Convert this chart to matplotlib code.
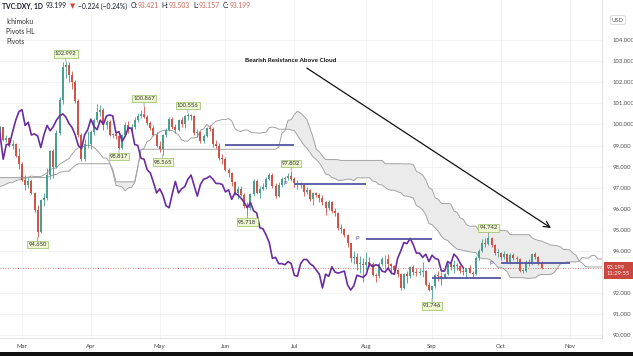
import numpy as np
import pandas as pd
import matplotlib
matplotlib.use("Agg")
import matplotlib.pyplot as plt
from matplotlib.patches import Rectangle
from matplotlib.ticker import FormatStrFormatter

# ---- data -----------------------------------------------------------------
# daily highs/lows before the visible window (Nov 1 2019 .. Feb 19 2020), only feed the cloud
hist_start = "2019-11-01"
hist_high = [97.59, 97.60, 98.05, 98.10, 98.20, 98.45, 98.40, 98.45, 98.45, 98.40, 98.20,
             98.05, 97.95, 98.05, 98.10, 98.35, 98.40, 98.40, 98.60, 98.60, 98.55,
             98.30, 98.00, 97.80, 97.75, 97.80, 97.75, 97.70, 97.50, 97.30, 97.40, 97.25,
             97.30, 97.50, 97.50, 97.75, 97.75, 97.75, 97.70, 97.70, 97.65, 96.95, 96.80,
             96.50, 96.90, 97.00, 96.90, 97.05, 97.35, 97.50, 97.55, 97.45, 97.45, 97.45,
             97.40, 97.70, 97.65, 97.65, 97.65, 97.90, 98.00, 98.05, 98.10, 98.20, 98.10, 97.90,
             97.80, 98.00, 98.35, 98.55, 98.75, 98.85, 98.90, 99.10, 99.15, 99.20, 99.20,
             99.50, 99.75]
hist_low = [97.11, 97.15, 97.50, 97.85, 97.80, 98.10, 98.15, 98.10, 98.20, 98.10, 97.95,
            97.80, 97.75, 97.80, 97.85, 97.95, 98.20, 98.15, 98.25, 98.35, 98.20,
            97.80, 97.60, 97.55, 97.55, 97.40, 97.55, 97.40, 97.05, 96.90, 96.85, 96.95,
            97.05, 97.20, 97.30, 97.35, 97.55, 97.60, 97.60, 97.55, 96.90, 96.65, 96.36,
            96.36, 96.40, 96.65, 96.60, 96.60, 96.90, 97.25, 97.25, 97.25, 97.25, 97.15,
            97.15, 97.25, 97.55, 97.45, 97.45, 97.55, 97.75, 97.80, 97.90, 97.95, 97.80, 97.35,
            97.35, 97.65, 97.95, 98.25, 98.45, 98.60, 98.65, 98.70, 98.90, 98.95, 99.05,
            99.10, 99.40]

# visible candles, Feb 20 .. Oct 20 2020
candle_start = "2020-02-20"
opens = [99.70, 99.86, 99.26, 99.35, 99.00, 99.05, 98.50,
         98.13, 97.36, 97.15, 97.33, 96.73, 95.95, 94.92, 96.40, 96.52, 97.60, 98.72,
         98.00, 99.60, 101.15, 102.70, 102.80, 102.35, 102.00, 101.10, 99.50, 98.35, 99.05,
         99.05, 99.65, 100.20, 100.60, 100.70, 99.95, 100.10, 99.50, 99.55, 99.45, 98.90,
         99.50, 99.95, 99.70, 99.90, 100.20, 100.40, 100.50, 100.35, 100.05, 99.85, 99.50,
         99.00, 98.85, 99.50, 99.75, 100.25, 99.90, 99.75, 100.20, 100.00, 100.40, 100.45,
         100.40, 99.60, 99.65, 99.20, 99.45, 99.85, 99.80, 99.05, 99.00, 98.40,
         98.35, 97.85, 97.70, 97.25, 96.75, 96.95, 96.65, 96.15, 96.05, 96.70, 97.30,
         96.75, 96.95, 97.05, 97.40, 97.60, 97.10, 96.60, 97.15, 97.40, 97.45, 97.55,
         97.40, 97.20, 97.20, 97.15, 96.80, 96.90, 96.45, 96.75, 96.65, 96.50, 96.30,
         96.05, 96.30, 95.90, 95.80, 95.10, 95.05, 94.75, 94.40, 93.65, 93.70, 93.40, 93.40,
         93.35, 93.50, 93.40, 92.85, 92.80, 93.40, 93.60, 93.60, 93.40, 93.30, 93.10,
         92.90, 92.25, 92.90, 92.80, 93.25, 93.00, 92.95, 93.00, 93.05, 92.40,
         92.15, 92.35, 92.85, 92.80, 92.75, 92.90, 93.40, 93.25, 93.35, 93.30, 93.05,
         93.00, 93.20, 92.95, 92.90, 93.65, 94.00, 94.40, 94.35, 94.60, 94.30, 93.90,
         93.90, 93.70, 93.85, 93.50, 93.80, 93.65, 93.60, 93.05, 93.05, 93.50, 93.40,
         93.85, 93.70, 93.421]
highs = [99.91, 99.90, 99.48, 99.40, 99.25, 99.10, 98.90,
         98.20, 97.60, 97.50, 97.40, 96.80, 96.20, 96.45, 96.75, 97.95, 98.80, 98.85,
         99.75, 101.30, 102.95, 102.992, 102.95, 102.55, 102.10, 101.20, 99.60, 99.30, 99.70,
         99.75, 100.30, 100.95, 100.93, 100.80, 100.20, 100.20, 99.60, 99.65, 99.50, 99.55,
         100.10, 100.15, 100.00, 100.35, 100.55, 100.70, 100.867, 100.45, 100.15, 99.95, 99.65,
         99.20, 99.55, 99.85, 100.35, 100.35, 100.00, 100.25, 100.35, 100.45, 100.556, 100.50,
         100.45, 99.80, 99.70, 99.55, 99.90, 99.95, 99.90, 99.25, 99.10, 98.60,
         98.45, 97.95, 97.75, 97.30, 97.10, 97.10, 96.75, 96.30, 96.75, 97.40, 97.40,
         97.10, 97.20, 97.50, 97.70, 97.70, 97.20, 97.25, 97.50, 97.55, 97.70, 97.802,
         97.50, 97.35, 97.25, 97.20, 97.05, 96.95, 96.80, 96.80, 96.75, 96.65, 96.35,
         96.40, 96.35, 96.05, 95.85, 95.30, 95.10, 94.80, 94.40, 94.00, 93.90, 93.75, 93.65,
         93.95, 93.70, 93.50, 92.95, 93.50, 93.70, 93.80, 93.85, 93.45, 93.35, 93.15,
         92.95, 92.95, 93.05, 93.30, 93.35, 93.20, 93.20, 93.50, 93.10, 92.55,
         92.30, 92.90, 93.05, 93.00, 92.95, 93.45, 93.45, 93.55, 93.45, 93.35, 93.20,
         93.20, 93.35, 93.05, 93.75, 94.10, 94.55, 94.60, 94.742, 94.65, 94.35, 94.10,
         93.95, 94.00, 93.90, 93.90, 93.90, 93.75, 93.65, 93.15, 93.55, 93.60, 93.90,
         93.95, 93.75, 93.503]
lows = [99.55, 99.20, 99.15, 98.95, 98.85, 98.45, 97.90,
        97.30, 96.90, 97.00, 96.70, 95.85, 94.650, 94.85, 96.15, 96.40, 97.40, 97.45,
        97.95, 99.50, 100.95, 102.20, 102.00, 101.70, 101.00, 99.40, 98.25, 98.25, 98.90,
        98.85, 99.50, 100.10, 100.40, 99.75, 99.80, 99.45, 99.35, 99.30, 98.817, 98.85,
        99.45, 99.60, 99.60, 99.80, 100.10, 100.30, 100.30, 99.95, 99.75, 99.45, 98.95,
        98.70, 98.565, 99.40, 99.70, 99.80, 99.60, 99.70, 99.90, 99.85, 100.20, 100.20,
        99.50, 99.40, 99.10, 99.10, 99.40, 99.70, 98.95, 98.90, 98.30, 98.10,
        97.80, 97.50, 97.10, 96.65, 96.45, 96.60, 96.05, 95.718, 95.95, 96.60, 96.70,
        96.50, 96.90, 96.95, 97.35, 97.00, 96.50, 96.55, 97.05, 97.20, 97.35, 97.30,
        97.05, 96.95, 97.00, 96.60, 96.70, 96.35, 96.20, 96.55, 96.30, 96.20, 95.70,
        95.95, 95.80, 95.65, 95.00, 94.85, 94.65, 94.20, 93.50, 93.40, 93.10, 92.95, 92.55,
        93.10, 93.25, 92.80, 92.55, 92.70, 93.30, 93.15, 93.10, 92.90, 92.95, 92.75,
        92.15, 92.20, 92.50, 92.70, 92.85, 92.80, 92.85, 92.75, 92.35, 92.10,
        91.746, 92.25, 92.60, 92.40, 92.70, 92.85, 93.10, 92.95, 93.10, 92.95, 92.85,
        92.70, 92.95, 92.70, 92.85, 93.55, 93.95, 94.20, 94.30, 94.20, 93.80, 93.70,
        93.55, 93.60, 93.45, 93.40, 93.55, 93.50, 93.00, 92.95, 93.00, 93.30, 93.35,
        93.60, 93.35, 93.157]
closes = [99.86, 99.26, 99.35, 99.00, 99.05, 98.50, 98.13,
          97.36, 97.15, 97.33, 96.73, 95.95, 94.92, 96.40, 96.52, 97.60, 98.72, 98.00,
          99.60, 101.15, 102.70, 102.80, 102.35, 102.00, 101.10, 99.50, 98.35, 99.05, 99.05,
          99.65, 100.20, 100.60, 100.70, 99.95, 100.10, 99.50, 99.55, 99.45, 98.90, 99.50,
          99.95, 99.70, 99.90, 100.20, 100.40, 100.50, 100.35, 100.05, 99.85, 99.50, 99.00,
          98.85, 99.50, 99.75, 100.25, 99.90, 99.75, 100.20, 100.00, 100.40, 100.45, 100.40,
          99.60, 99.65, 99.20, 99.45, 99.85, 99.80, 99.05, 99.00, 98.40, 98.35,
          97.85, 97.70, 97.25, 96.75, 96.95, 96.65, 96.15, 96.05, 96.70, 97.30, 96.75,
          96.95, 97.05, 97.40, 97.60, 97.10, 96.60, 97.15, 97.40, 97.45, 97.55, 97.40,
          97.20, 97.20, 97.15, 96.80, 96.90, 96.45, 96.75, 96.65, 96.50, 96.30, 96.05,
          96.30, 95.90, 95.80, 95.10, 95.05, 94.75, 94.40, 93.65, 93.70, 93.40, 93.40, 93.35,
          93.50, 93.40, 92.85, 92.80, 93.40, 93.60, 93.60, 93.40, 93.30, 93.10, 92.90,
          92.25, 92.90, 92.80, 93.25, 93.00, 92.95, 93.00, 93.05, 92.40, 92.15,
          92.35, 92.85, 92.80, 92.75, 92.90, 93.40, 93.25, 93.35, 93.30, 93.05, 93.00,
          93.20, 92.95, 92.90, 93.65, 94.00, 94.40, 94.35, 94.60, 94.30, 93.90, 93.90,
          93.70, 93.85, 93.50, 93.80, 93.65, 93.60, 93.05, 93.05, 93.50, 93.40, 93.85,
          93.70, 93.42, 93.199]

# swing highs / lows marked by "Pivots HL"
swing_dates = ["2020-03-09", "2020-03-20", "2020-04-14", "2020-04-24", "2020-05-04",
               "2020-05-14", "2020-06-10", "2020-06-30", "2020-09-01", "2020-09-25"]
swing_kind = ["L", "H", "L", "H", "L", "H", "L", "H", "L", "H"]

# monthly pivot levels ("Pivots")
pivot_start = ["2020-06-01", "2020-07-01", "2020-08-03", "2020-09-01", "2020-10-01"]
pivot_end = ["2020-07-01", "2020-08-03", "2020-09-01", "2020-10-01", "2020-11-02"]
pivot_level = [99.02, 97.18, 94.57, 92.72, 93.43]
pivot_show_p = [False, True, True, False, True]

month_names = ["Mar", "Apr", "May", "Jun", "Jul", "Aug", "Sep", "Oct", "Nov"]
month_first = ["2020-03-02", "2020-04-01", "2020-05-01", "2020-06-01", "2020-07-01",
               "2020-08-03", "2020-09-01", "2020-10-01", "2020-11-02"]
# 93 sits under the last-price tag, 105 under the currency badge
price_ticks = [90, 91, 92, 94, 95, 96, 97, 98, 99, 100, 101, 102, 103, 104]

note_text = "Bearish Resistance Above Cloud"
note_pos = ("2020-06-30", 103.05)
arrow_from = ("2020-07-07", 102.67)
arrow_to = ("2020-10-23", 95.09)

# ---- style ----------------------------------------------------------------
W, H = 633, 356
RED = "#d0544a"
GREEN = "#4a9f90"
PURPLE = "#6a2ca0"
CLOUD = "#a3a3a3"
PIVOT = "#5555a3"
ORIGIN = "2020-03-02"

plt.rcParams["font.family"] = ["Lato", "DejaVu Sans"]


def bx(d):
    return np.busday_count(ORIGIN, np.datetime64(d, "D"))


def px(x, y):
    return x / W, 1 - y / H


fig = plt.figure(figsize=(W / 100, H / 100), dpi=100)
ax = fig.add_axes([0, 18 / H, 602 / W, 1 - 18 / H])

opens_a, highs_a, lows_a, closes_a = map(np.array, (opens, highs, lows, closes))
x_c = np.busday_count(ORIGIN, pd.bdate_range(candle_start, periods=len(closes)).values.astype("datetime64[D]"))
x_all = np.busday_count(ORIGIN, pd.bdate_range(hist_start, periods=len(hist_high) + len(highs)).values.astype("datetime64[D]"))

# ichimoku cloud (9/26/52, displacement 26)
hh = pd.Series(hist_high + highs)
ll = pd.Series(hist_low + lows)
tenkan = (hh.rolling(9).max() + ll.rolling(9).min()) / 2
kijun = (hh.rolling(26).max() + ll.rolling(26).min()) / 2
span_a = ((tenkan + kijun) / 2).values
span_b = ((hh.rolling(52).max() + ll.rolling(52).min()) / 2).values
lead_x = x_all + 25
ax.fill_between(lead_x, span_a, span_b, where=span_b > span_a, interpolate=True,
                color="#ebebeb", lw=0, zorder=1)
ax.plot(lead_x, span_a, color=CLOUD, lw=0.7, zorder=2)
ax.plot(lead_x, span_b, color=CLOUD, lw=0.7, zorder=2)

# lagging span
ax.plot(x_c - 25, closes_a, color=PURPLE, lw=1.2, zorder=4)

# candles
up = closes_a >= opens_a
col = np.where(up, GREEN, RED)
ax.vlines(x_c, lows_a, highs_a, colors=col, lw=0.6, zorder=3)
body = np.maximum(np.abs(closes_a - opens_a), 0.04)
ax.bar(x_c, body, bottom=np.minimum(opens_a, closes_a), width=0.64, color=col, lw=0, zorder=3)

# monthly pivots
for s, e, lv, show in zip(pivot_start, pivot_end, pivot_level, pivot_show_p):
    ax.hlines(lv, bx(s), bx(e), color=PIVOT, lw=1.3, zorder=5)
    if show:
        ax.text(bx(s) - 3, lv, "P", color=PIVOT, fontsize=4.3, ha="center", va="center", zorder=5)

# swing labels
for d, k in zip(swing_dates, swing_kind):
    i = bx(d) - x_c[0]
    v = highs_a[i] if k == "H" else lows_a[i]
    off = 3.5 if k == "H" else -3.5
    ax.annotate(f"{v:.3f}", xy=(bx(d), v), xytext=(0, off), textcoords="offset points",
                ha="center", va="bottom" if k == "H" else "top", fontsize=4.2, color="#333333",
                bbox=dict(boxstyle="square,pad=0.2", fc="#eef6d2", ec="#97bb62", lw=0.5),
                arrowprops=dict(arrowstyle="-", color="#8a8a8a", lw=0.5, shrinkA=0, shrinkB=0),
                zorder=6)

# last price line and tag
ax.axhline(closes_a[-1], color=RED, lw=0.6, ls=(0, (1, 2)), zorder=2)
ax.annotate(f"{closes_a[-1]:.3f}\n11:29:55", xy=(1, closes_a[-1]), xycoords=ax.get_yaxis_transform(),
            xytext=(3.2, -1.8), textcoords="offset points", ha="left", va="center", fontsize=4.2,
            color="white", linespacing=1.3,
            bbox=dict(boxstyle="square,pad=0.5", fc="#c9473e", ec="none"), annotation_clip=False, zorder=10)

# trend note
ax.text(bx(note_pos[0]), note_pos[1], note_text, fontsize=4.6, fontweight="bold", ha="center",
        va="center", color="#111111", zorder=7)
ax.annotate("", xy=(bx(arrow_to[0]), arrow_to[1]), xytext=(bx(arrow_from[0]), arrow_from[1]),
            arrowprops=dict(arrowstyle="->", color="#111111", lw=0.9, mutation_scale=11,
                            shrinkA=0, shrinkB=0), zorder=7)

# axes
ax.set_xlim(-7.03, 185.3)
ax.set_ylim(89.877, 105.896)
ax.set_xticks([bx(d) for d in month_first])
ax.set_xticklabels(month_names)
ax.set_yticks(price_ticks)
ax.yaxis.set_major_formatter(FormatStrFormatter("%.3f"))
ax.yaxis.tick_right()
ax.tick_params(axis="y", length=0, pad=7.5, labelsize=4.3, labelcolor="#555555")
ax.tick_params(axis="x", length=0, pad=4, labelsize=4.3, labelcolor="#444444")
ax.grid(color="#f0f1f4", lw=0.6, zorder=0)
ax.set_axisbelow(True)
for side in ("top", "left"):
    ax.spines[side].set_visible(False)
for side in ("right", "bottom"):
    ax.spines[side].set_color("#dcdcdc")
    ax.spines[side].set_linewidth(0.6)

# header and legend
parts = [("TVC:DXY, 1D", "#131722", "bold"), ("93.199", "#131722", "normal"),
         ("\u25bc", "#d6443c", "normal"), ("\u22120.224 (\u22120.24%)", "#131722", "normal"),
         ("O:", "#131722", "normal"), ("93.421", "#d0675a", "normal"),
         ("H:", "#131722", "normal"), ("93.503", "#d0675a", "normal"),
         ("L:", "#131722", "normal"), ("93.157", "#d0675a", "normal"),
         ("C:", "#131722", "normal"), ("93.199", "#d0675a", "normal")]
prev = None
for s, c, w in parts:
    gap = 0.2 if (prev is not None and prev.get_text().endswith(":")) else 2.2
    if prev is None:
        prev = fig.text(*px(2, 6), s, color=c, fontweight=w, fontsize=4.9, ha="left", va="center")
    else:
        prev = ax.annotate(s, xy=(1, 0.5), xycoords=prev, xytext=(gap, 0), textcoords="offset points",
                           color=c, fontweight=w, fontsize=4.9, ha="left", va="center",
                           annotation_clip=False)

for label, yy in zip(["Ichimoku", "Pivots HL", "Pivots"], [22, 31.5, 41]):
    fig.text(*px(6, yy), label, fontsize=4.9, color="#333333", ha="left", va="center")

fig.text(*px(618, 20), "USD", fontsize=4.2, color="#555555", ha="center", va="center", zorder=10,
         bbox=dict(boxstyle="round,pad=0.3", fc="white", ec="#c8c8c8", lw=0.5))
fig.patches.append(Rectangle((0, 0), 1, 4 / H, transform=fig.transFigure, fc="#111111", ec="none"))

fig.savefig("out.png", dpi=100)
